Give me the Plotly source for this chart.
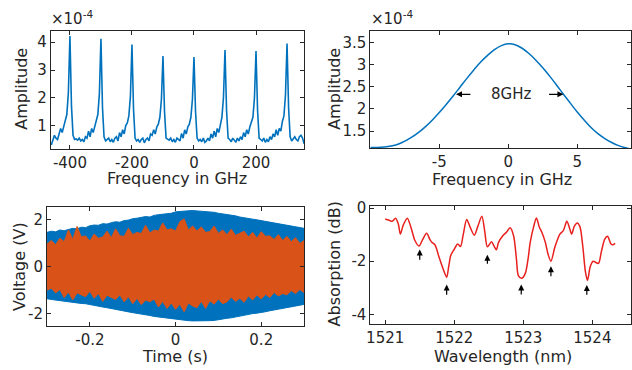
import plotly.graph_objects as go

# ---------------- data ----------------
# Top-left: comb spectrum (amplitude x1e-4), 5 GHz sampling
comb_freq = list(range(-460, 360, 5))
comb_amp = [
    0.3, 0.5, 0.65, 0.55, 0.5, 0.7, 0.9, 0.75, 0.95, 1.1, 1.4, 2.2, 4.22,
    1.7, 0.65, 0.5, 0.52, 0.48, 0.55, 0.45, 0.5, 0.42, 0.6, 0.55, 0.8, 0.6, 0.9, 0.75, 1.0, 1.15, 1.4, 2.15, 4.12,
    1.65, 0.6, 0.45, 0.5, 0.55, 0.42, 0.5, 0.4, 0.55, 0.6, 0.45, 0.75, 0.6, 0.85, 0.7, 1.0, 1.1, 1.35, 2.05, 3.92,
    1.6, 0.55, 0.45, 0.5, 0.4, 0.5, 0.55, 0.38, 0.5, 0.55, 0.45, 0.7, 0.65, 0.85, 0.7, 0.95, 1.05, 1.3, 1.95, 3.5,
    1.5, 0.55, 0.5, 0.48, 0.55, 0.42, 0.5, 0.4, 0.55, 0.5, 0.45, 0.72, 0.55, 0.85, 0.7, 0.95, 1.05, 1.3, 1.95, 3.47,
    1.5, 0.55, 0.45, 0.5, 0.42, 0.55, 0.4, 0.45, 0.55, 0.45, 0.7, 0.55, 0.8, 0.6, 0.9, 0.75, 1.05, 1.3, 2.0, 3.72,
    1.55, 0.55, 0.5, 0.42, 0.55, 0.45, 0.4, 0.55, 0.45, 0.6, 0.5, 0.75, 0.6, 0.85, 0.7, 0.95, 1.1, 1.3, 2.0, 3.68,
    1.55, 0.55, 0.5, 0.45, 0.55, 0.4, 0.5, 0.42, 0.6, 0.5, 0.7, 0.6, 0.85, 0.65, 0.9, 0.8, 1.15, 1.35, 2.1, 3.95,
    1.65, 0.6, 0.45, 0.55, 0.6, 0.5, 0.45, 0.6, 0.65, 0.55, 0.35,
]

# Top-right: single line profile (amplitude x1e-4)
line_freq = [-10, -9.5, -9, -8.5, -8, -7.5, -7, -6.5, -6, -5.5, -5, -4.5, -4, -3.5, -3, -2.5, -2, -1.5, -1, -0.5,
             0, 0.5, 1, 1.5, 2, 2.5, 3, 3.5, 4, 4.5, 5, 5.5, 6, 6.5, 7, 7.5, 8, 8.5, 9]
line_amp = [1.13, 1.13, 1.14, 1.16, 1.2, 1.27, 1.36, 1.47, 1.6, 1.75, 1.92, 2.1, 2.29, 2.49, 2.69, 2.88, 3.06, 3.21, 3.34, 3.43,
            3.47, 3.45, 3.37, 3.25, 3.1, 2.93, 2.74, 2.54, 2.33, 2.13, 1.93, 1.75, 1.58, 1.44, 1.33, 1.24, 1.17, 1.12, 1.08]
fwhm_label = "8GHz"

# Bottom-left: voltage envelopes, 10 ms sampling
time_s = [round(-0.30 + 0.01 * i, 2) for i in range(61)]
blue_upper = [1.45, 1.5, 1.47, 1.55, 1.52, 1.58, 1.62, 1.6, 1.67, 1.65, 1.73, 1.76, 1.75, 1.82, 1.8, 1.86, 1.9, 1.88, 1.95, 1.97,
              2.03, 2.05, 2.08, 2.12, 2.1, 2.17, 2.2, 2.22, 2.27, 2.26, 2.32, 2.34, 2.36, 2.35, 2.38, 2.36, 2.35, 2.34, 2.32, 2.3,
              2.26, 2.24, 2.2, 2.17, 2.15, 2.1, 2.08, 2.04, 2.01, 1.98, 1.95, 1.92, 1.88, 1.85, 1.82, 1.78, 1.75, 1.71, 1.68, 1.65, 1.62]
blue_lower = [-1.37, -1.4, -1.42, -1.45, -1.47, -1.5, -1.52, -1.55, -1.57, -1.58, -1.61, -1.65, -1.68, -1.72, -1.75, -1.78, -1.82, -1.86, -1.88, -1.92,
              -1.96, -1.99, -2.02, -2.06, -2.08, -2.12, -2.15, -2.17, -2.2, -2.21, -2.23, -2.26, -2.28, -2.3, -2.31, -2.33, -2.32, -2.31, -2.3, -2.29,
              -2.28, -2.24, -2.2, -2.18, -2.14, -2.1, -2.08, -2.04, -2.0, -1.98, -1.96, -1.92, -1.88, -1.84, -1.8, -1.77, -1.73, -1.7, -1.67, -1.64, -1.61]
orange_upper = [0.95, 1.1, 0.92, 1.2, 1.05, 1.55, 1.15, 1.7, 1.25, 1.3,
                1.08, 1.38, 1.2, 1.25, 1.5, 1.22, 1.6, 1.3, 1.28, 1.62,
                1.35, 1.45, 1.4, 1.75, 1.42, 1.55, 1.5, 1.85, 1.55, 1.6,
                1.5, 1.9, 2.02, 1.55, 1.72, 1.5, 1.68, 1.45, 1.48, 1.72,
                1.4, 1.55, 1.35, 1.58, 1.32, 1.42, 1.5, 1.25, 1.45, 1.2,
                1.48, 1.28, 1.3, 1.15, 1.35, 1.1, 1.28, 1.05, 1.22, 0.98, 1.1]
orange_lower = [-1.0, -0.92, -1.12, -0.98, -1.32, -1.08, -1.42, -1.12, -1.2, -1.28,
                -1.05, -1.35, -1.15, -1.48, -1.22, -1.3, -1.4, -1.2, -1.5, -1.28,
                -1.58, -1.35, -1.62, -1.42, -1.5, -1.38, -1.72, -1.48, -1.78, -1.55,
                -1.82, -1.6, -1.92, -1.55, -1.68, -1.75, -1.48, -1.78, -1.45, -1.6,
                -1.38, -1.58, -1.5, -1.3, -1.48, -1.35, -1.52, -1.25, -1.42, -1.2,
                -1.38, -1.18, -1.32, -1.1, -1.25, -1.15, -1.2, -1.02, -1.15, -0.98, -1.1]

# Bottom-right: absorption spectrum
wavelength_nm = [1521.00, 1521.05, 1521.10, 1521.15, 1521.19, 1521.22, 1521.26, 1521.32, 1521.37, 1521.43, 1521.49, 1521.54,
                 1521.60, 1521.65, 1521.68, 1521.72, 1521.78, 1521.84, 1521.89, 1521.92, 1521.95, 1522.00, 1522.05, 1522.09,
                 1522.13, 1522.18, 1522.23, 1522.29, 1522.34, 1522.40, 1522.44, 1522.48, 1522.54, 1522.58, 1522.61, 1522.64,
                 1522.70, 1522.76, 1522.81, 1522.86, 1522.90, 1522.93, 1522.98, 1523.03, 1523.07, 1523.10, 1523.15, 1523.19,
                 1523.23, 1523.27, 1523.32, 1523.36, 1523.40, 1523.46, 1523.53, 1523.58, 1523.63, 1523.67, 1523.70, 1523.74,
                 1523.78, 1523.82, 1523.86, 1523.90, 1523.93, 1523.97, 1524.01, 1524.05, 1524.09, 1524.13, 1524.18, 1524.22,
                 1524.27, 1524.30, 1524.33]
absorption_db = [-0.41, -0.45, -0.5, -0.38, -0.6, -0.98, -0.65, -0.38, -0.7, -1.22, -1.43, -1.2,
                 -0.95, -1.2, -1.3, -1.38, -1.85, -2.3, -2.6, -2.2, -1.78, -1.55, -1.35, -1.45,
                 -1.0, -0.43, -0.72, -1.02, -0.7, -0.31, -0.85, -1.46, -1.27, -1.45, -1.57, -1.3,
                 -1.05, -0.9, -0.74, -1.05, -1.9, -2.55, -2.64, -2.45, -1.9, -1.29, -0.7, -0.37,
                 -0.7, -0.92, -1.3, -1.75, -2.0, -1.45, -0.98, -0.85, -0.5, -0.75, -0.98, -0.68,
                 -0.56, -0.7, -1.4, -2.4, -2.72, -2.2, -2.0, -2.05, -2.08, -1.65, -1.17, -1.06,
                 -1.35, -1.38, -1.33]
arrow_wl = [1521.50, 1521.89, 1522.48, 1522.97, 1523.40, 1523.92]
arrow_tip = [-1.56, -2.88, -1.76, -2.88, -2.19, -2.9]
arrow_tail = [-2.0, -3.32, -2.15, -3.31, -2.62, -3.32]

# axis titles: (text, centre x px, centre y px, angle)
axis_titles = [
    ("Frequency in GHz", 174.5, 175, 0), ("Amplitude", 17.5, 83, -90),
    ("Frequency in GHz", 501, 176, 0), ("Amplitude", 332.5, 83, -90),
    ("Time (s)", 172.5, 356, 0), ("Voltage (V)", 15, 264, -90),
    ("Wavelength (nm)", 502, 356, 0), ("Absorption (dB)", 332.5, 262, -90),
]

# ---------------- styling ----------------
W, H = 632, 370
FONT = "DejaVu Sans"
TXT = "#262626"
BLUE = "#0072BD"
ORANGE = "#D95319"
RED = "#E8201E"


def px_x(p):
    return p / W


def px_y(p):
    return 1 - p / H


fig = go.Figure()

fig.add_trace(go.Scatter(x=comb_freq, y=comb_amp, mode="lines", line=dict(color=BLUE, width=1.6),
                         xaxis="x", yaxis="y", showlegend=False))
fig.add_trace(go.Scatter(x=line_freq, y=line_amp, mode="lines", line=dict(color=BLUE, width=1.5, shape="spline"),
                         xaxis="x2", yaxis="y2", showlegend=False))
fig.add_trace(go.Scatter(x=time_s + time_s[::-1], y=blue_upper + blue_lower[::-1], mode="lines", fill="toself",
                         fillcolor=BLUE, line=dict(color=BLUE, width=1), xaxis="x3", yaxis="y3", showlegend=False))
fig.add_trace(go.Scatter(x=time_s + time_s[::-1], y=orange_upper + orange_lower[::-1], mode="lines", fill="toself",
                         fillcolor=ORANGE, line=dict(color=ORANGE, width=1), xaxis="x3", yaxis="y3", showlegend=False))
fig.add_trace(go.Scatter(x=wavelength_nm, y=absorption_db, mode="lines",
                         line=dict(color=RED, width=1.5, shape="spline", smoothing=0.8),
                         xaxis="x4", yaxis="y4", showlegend=False))


def ax_common(**kw):
    d = dict(showline=True, linecolor=TXT, linewidth=1, mirror="ticks", ticks="inside", ticklen=4,
             tickcolor=TXT, tickwidth=1, showgrid=False, zeroline=False, fixedrange=True,
             tickfont=dict(family=FONT, size=15, color=TXT))
    d.update(kw)
    return d


fig.update_layout(
    width=W, height=H, margin=dict(l=0, r=0, t=0, b=0),
    paper_bgcolor="white", plot_bgcolor="white",
    font=dict(family=FONT, size=15, color=TXT),
    xaxis=ax_common(domain=[px_x(47), px_x(302)], anchor="y", range=[-462, 355],
                    tickvals=[-400, -200, 0, 200], ticktext=["-400", "-200", "0", "200"]),
    yaxis=ax_common(domain=[px_y(145), px_y(24)], anchor="x", range=[0.15, 4.42],
                    tickvals=[1, 2, 3, 4], ticktext=["1", "2", "3", "4"]),
    xaxis2=ax_common(domain=[px_x(368.7), px_x(631)], anchor="y2", range=[-10, 8.9],
                     tickvals=[-5, 0, 5], ticktext=["-5", "0", "5"]),
    yaxis2=ax_common(domain=[px_y(144), px_y(24)], anchor="x2", range=[1.11, 3.77],
                     tickvals=[1.5, 2, 2.5, 3, 3.5], ticktext=["1.5", "2", "2.5", "3", "3.5"]),
    xaxis3=ax_common(domain=[px_x(43.3), px_x(302)], anchor="y3", range=[-0.3, 0.3],
                     tickvals=[-0.2, 0, 0.2], ticktext=["-0.2", "0", "0.2"]),
    yaxis3=ax_common(domain=[px_y(325), px_y(204)], anchor="x3", range=[-2.52, 2.52],
                     tickvals=[-2, 0, 2], ticktext=["-2", "0", "2"]),
    xaxis4=ax_common(domain=[px_x(368.7), px_x(631)], anchor="y4", range=[1520.785, 1524.56],
                     tickvals=[1521, 1522, 1523, 1524], ticktext=["1521", "1522", "1523", "1524"]),
    yaxis4=ax_common(domain=[px_y(323.3), px_y(203.3)], anchor="x4", range=[-4.37, 0.06],
                     tickvals=[-4, -2, 0], ticktext=["-4", "-2", "0"]),
)

annotations = []
for text, cx, cy, ang in axis_titles:
    annotations.append(dict(xref="paper", yref="paper", x=px_x(cx), y=px_y(cy), xanchor="center", yanchor="middle",
                            text=text, textangle=ang, showarrow=False, font=dict(family=FONT, size=16, color=TXT)))
for xp in (47, 369):
    annotations.append(dict(xref="paper", yref="paper", x=px_x(xp - 2), y=px_y(23), xanchor="left", yanchor="bottom",
                            text="×10<sup>-4</sup>", showarrow=False, font=dict(family=FONT, size=15, color=TXT)))
annotations.append(dict(xref="x2", yref="y2", x=0.2, y=2.33, text=fwhm_label, showarrow=False,
                        font=dict(family=FONT, size=15, color=TXT)))
annotations.append(dict(xref="x2", yref="y2", axref="x2", ayref="y2", x=-3.79, y=2.33, ax=-2.64, ay=2.33,
                        text="", showarrow=True, arrowhead=2, arrowsize=1, arrowwidth=1.2, arrowcolor="black"))
annotations.append(dict(xref="x2", yref="y2", axref="x2", ayref="y2", x=4.0, y=2.33, ax=2.85, ay=2.33,
                        text="", showarrow=True, arrowhead=2, arrowsize=1, arrowwidth=1.2, arrowcolor="black"))
for xw, yt, yb in zip(arrow_wl, arrow_tip, arrow_tail):
    annotations.append(dict(xref="x4", yref="y4", axref="x4", ayref="y4", x=xw, y=yt, ax=xw, ay=yb,
                            text="", showarrow=True, arrowhead=2, arrowsize=1, arrowwidth=1.2, arrowcolor="black"))
fig.update_layout(annotations=annotations)

fig.write_html("out.html", config={"displayModeBar": False, "staticPlot": True},
               post_script="document.body.style.margin='0px';")
